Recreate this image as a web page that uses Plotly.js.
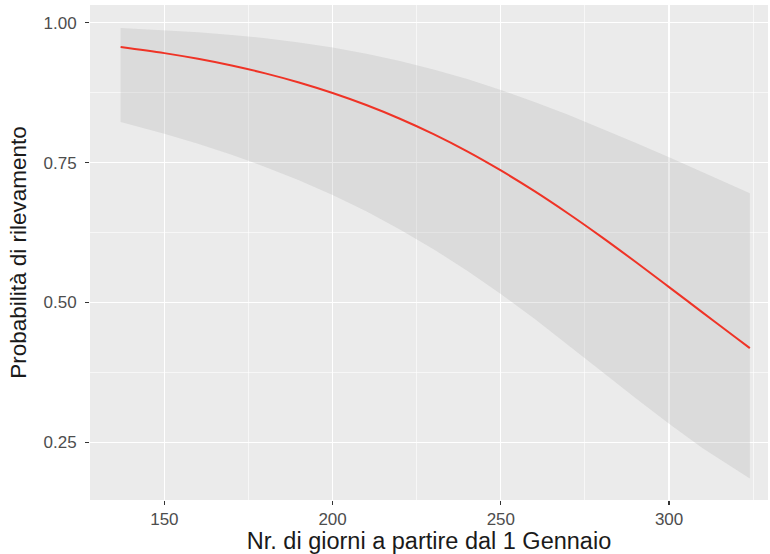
<!DOCTYPE html>
<html>
<head>
<meta charset="utf-8">
<script src="https://cdn.plot.ly/plotly-3.0.1.min.js"></script>
<style>html,body{margin:0;padding:0;background:#fff;}#chart{width:770px;height:554px;}</style>
</head>
<body>
<div id="chart"></div>
<script>
// Days from 1 January
const days = [137,150,160,170,180,190,200,210,220,230,240,250,260,270,280,290,300,310,320,324];
// Fitted probability of detection
const fitted = [0.9566,0.9456,0.9354,0.9234,0.9094,0.8931,0.8743,0.8528,0.8283,0.8008,0.7700,0.7359,0.6989,0.6590,0.6168,0.5727,0.5275,0.4818,0.4364,0.4184];
// Confidence band
const upper = [0.9906,0.9868,0.9830,0.9782,0.9722,0.9648,0.9557,0.9447,0.9317,0.9165,0.8992,0.8797,0.8583,0.8353,0.8109,0.7855,0.7593,0.7327,0.7058,0.6950];
const lower = [0.8226,0.8016,0.7836,0.7639,0.7422,0.7183,0.6919,0.6628,0.6306,0.5953,0.5568,0.5151,0.4707,0.4243,0.3766,0.3292,0.2831,0.2397,0.1999,0.1852];
const xTicks = [150,200,250,300];
const yTicks = [0.25,0.50,0.75,1.00];
const yTickLabels = ["0.25","0.50","0.75","1.00"];

const traces = [
  {x: days, y: lower, type: 'scatter', mode: 'lines', line: {width: 0}, hoverinfo: 'skip', showlegend: false},
  {x: days, y: upper, type: 'scatter', mode: 'lines', line: {width: 0}, fill: 'tonexty', fillcolor: 'rgba(153,153,153,0.2)', hoverinfo: 'skip', showlegend: false},
  {x: days, y: fitted, type: 'scatter', mode: 'lines', line: {color: '#EF3326', width: 2, shape: 'spline'}, showlegend: false}
];

const tickFont = {family: 'Liberation Sans, Arial, sans-serif', size: 17, color: '#4D4D4D'};
const xTitleFont = {family: 'Liberation Sans, Arial, sans-serif', size: 23.5, color: '#1a1a1a'};
const yTitleFont = {family: 'Liberation Sans, Arial, sans-serif', size: 22.5, color: '#1a1a1a'};

const layout = {
  width: 770, height: 554,
  margin: {l: 90, r: 2, t: 5, b: 54},
  paper_bgcolor: '#FFFFFF',
  plot_bgcolor: '#EBEBEB',
  showlegend: false,
  xaxis: {
    range: [127.9, 329.4],
    tickvals: xTicks, ticktext: xTicks.map(String),
    ticks: 'outside', ticklen: 4, tickwidth: 1.2, tickcolor: '#333333',
    tickfont: tickFont,
    showgrid: true, gridcolor: '#FFFFFF', gridwidth: 1.3,
    minor: {tickvals: [175,225,275,325], showgrid: true, gridcolor: '#FFFFFF', gridwidth: 0.6, ticks: ''},
    zeroline: false, showline: false,
    title: {text: 'Nr. di giorni a partire dal 1 Gennaio', font: xTitleFont, standoff: 2}
  },
  yaxis: {
    range: [0.147, 1.0316],
    tickvals: yTicks, ticktext: yTickLabels,
    ticks: 'outside', ticklen: 4, tickwidth: 1.2, tickcolor: '#333333',
    tickfont: tickFont, ticklabelstandoff: 5,
    showgrid: true, gridcolor: '#FFFFFF', gridwidth: 1.3,
    minor: {tickvals: [0.375,0.625,0.875], showgrid: true, gridcolor: '#FFFFFF', gridwidth: 0.6, ticks: ''},
    zeroline: false, showline: false,
    title: {text: 'Probabilità di rilevamento', font: yTitleFont, standoff: 10}
  }
};

Plotly.newPlot('chart', traces, layout, {displayModeBar: false, staticPlot: true});
</script>
</body>
</html>
